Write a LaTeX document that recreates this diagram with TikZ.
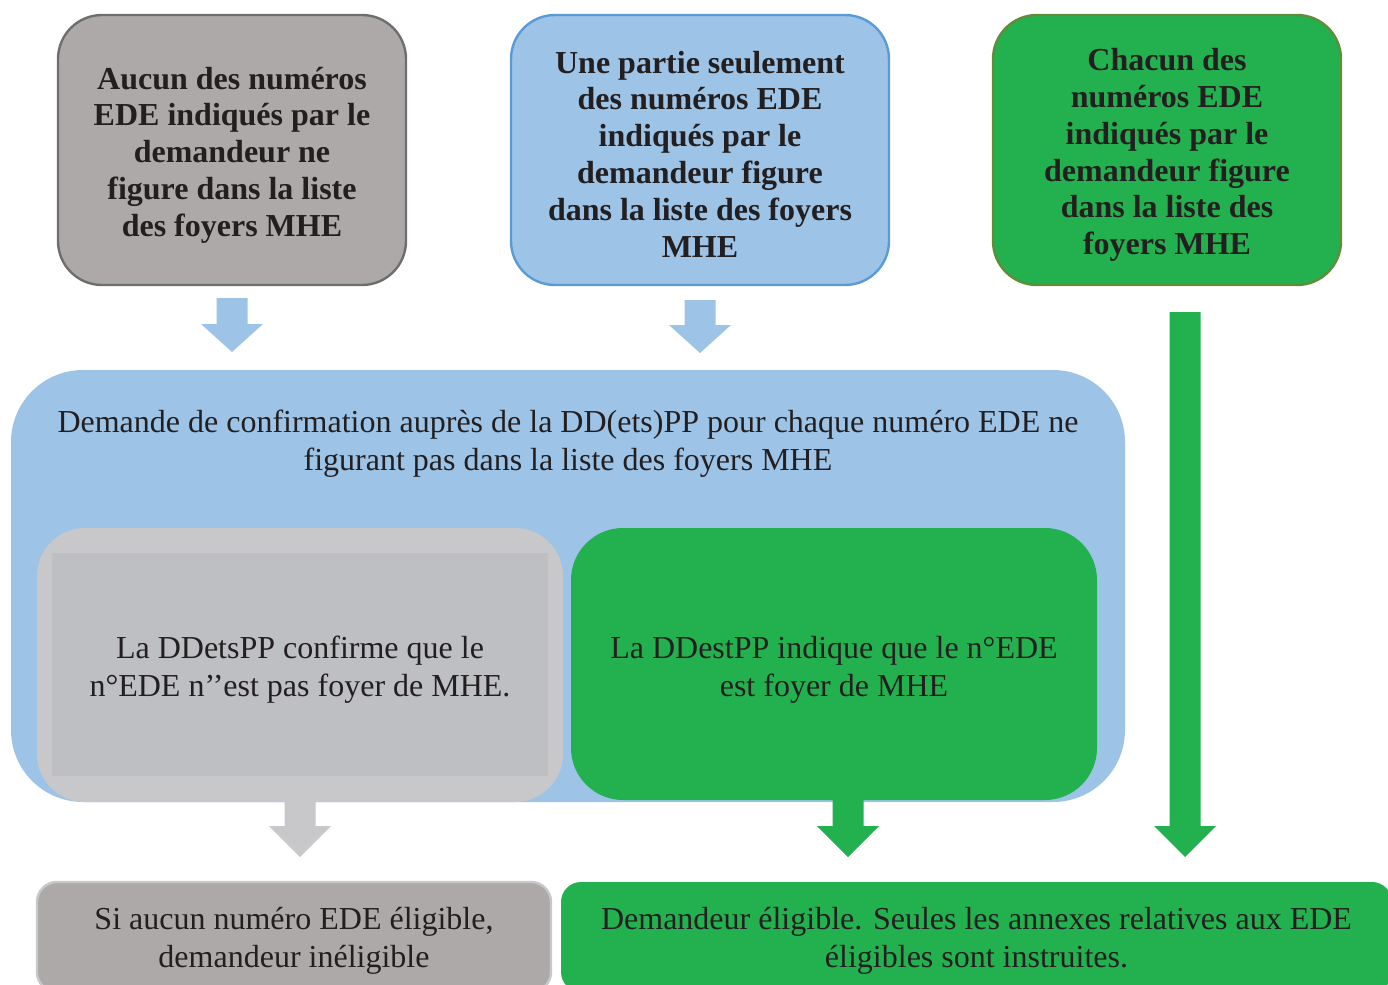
\documentclass[tikz,border=0pt]{standalone}
\usepackage{fontspec}
\setmainfont{Liberation Serif}
\definecolor{txt}{RGB}{35,31,32}
\definecolor{greyA}{RGB}{173,169,168}
\definecolor{greyB}{RGB}{110,110,110}
\definecolor{blueA}{RGB}{157,195,230}
\definecolor{blueB}{RGB}{91,155,213}
\definecolor{greenA}{RGB}{35,177,79}
\definecolor{greenB}{RGB}{96,140,60}
\definecolor{lgrey}{RGB}{200,200,202}
\definecolor{lgreyin}{RGB}{190,191,195}
\newcommand\blockarr[5]{%
  \fill[#5] ({#1-15.5},#2) -- ({#1+15.5},#2) -- ({#1+15.5},#3) -- ({#1+31},#3)
    -- (#1,#4) -- ({#1-31},#3) -- ({#1-15.5},#3) -- cycle;}
\begin{document}
\begin{tikzpicture}[x=0.5pt,y=-0.5pt,
  every node/.style={text=txt, align=center},
  topbox/.style={draw, line width=1.2pt, rounded corners=22pt, minimum height=135pt, inner sep=0pt},
  bold/.style={font=\fontsize{16}{18.4}\selectfont\bfseries, inner sep=0pt},
  plain/.style={font=\fontsize{16}{19}\selectfont, inner sep=0pt},
]
\useasboundingbox (0,0) rectangle (1388,985);
\clip (0,0) rectangle (1388,985);
% top boxes
\node[topbox, fill=greyA, draw=greyB, minimum width=174pt] (t1) at (232,150) {};
\node[bold] (t1t) at (232,155)
  {Aucun des numéros\\EDE indiqués par le\\demandeur ne\\figure dans la liste\\des foyers MHE};
\node[topbox, fill=blueA, draw=blueB, minimum width=189pt] (t2) at (700,150) {};
\node[bold] (t2t) at (700,154)
  {Une partie seulement\\des numéros EDE\\indiqués par le\\demandeur figure\\dans la liste des foyers\\MHE};
\node[topbox, fill=greenA, draw=greenB, minimum width=174pt] (t3) at (1167,150) {};
\node[bold] (t3t) at (1167,155)
  {Chacun des\\numéros EDE\\indiqués par le\\demandeur figure\\dans la liste des\\foyers MHE};
% arrows from top
\blockarr{232}{298}{324}{352}{blueA}
\blockarr{700}{300}{325}{353}{blueA}
\blockarr{1185}{312}{826}{857}{greenA}
% big container
\node[fill=blueA, rounded corners=36pt, minimum width=557pt, minimum height=216pt, inner sep=0pt] (big) at (568,586) {};
\node[plain] (bigt) at (568,444)
  {Demande de confirmation auprès de la DD(ets)PP pour chaque numéro EDE ne\\figurant pas dans la liste des foyers MHE};
% arrows under inner boxes
\blockarr{300}{800}{826}{857}{lgrey}
\blockarr{848}{798}{826}{857}{greenA}
% inner grey
\node[fill=lgrey, rounded corners=24pt, minimum width=263pt, minimum height=137pt, inner sep=0pt] (g) at (300,665) {};
\node[fill=lgreyin, minimum width=248pt, minimum height=111.5pt, inner sep=0pt] (gin) at (300,664.5) {};
\node[plain] (gt) at (300,670) {La DDetsPP confirme que le\\n°EDE n’’est pas foyer de MHE.};
% inner green
\node[fill=greenA, rounded corners=26pt, minimum width=263pt, minimum height=136pt, inner sep=0pt] (gr) at (834,664) {};
\node[plain] (grt) at (834,670) {La DDestPP indique que le n°EDE\\est foyer de MHE};
% bottom boxes
\node[fill=greyA, draw=lgrey, line width=1.2pt, rounded corners=10pt, minimum width=257pt, minimum height=55pt, inner sep=0pt] (b1) at (294,937) {};
\node[plain] (b1t) at (294,941) {Si aucun numéro EDE éligible,\\demandeur inéligible};
\node[fill=greenA, rounded corners=10pt, minimum width=415.5pt, minimum height=55pt, inner sep=0pt] (b2) at (976.5,937) {};
\node[plain] (b2t) at (976.5,941)
  {Demandeur éligible. Seules les annexes relatives aux EDE\\éligibles sont instruites.};
\end{tikzpicture}
\end{document}
